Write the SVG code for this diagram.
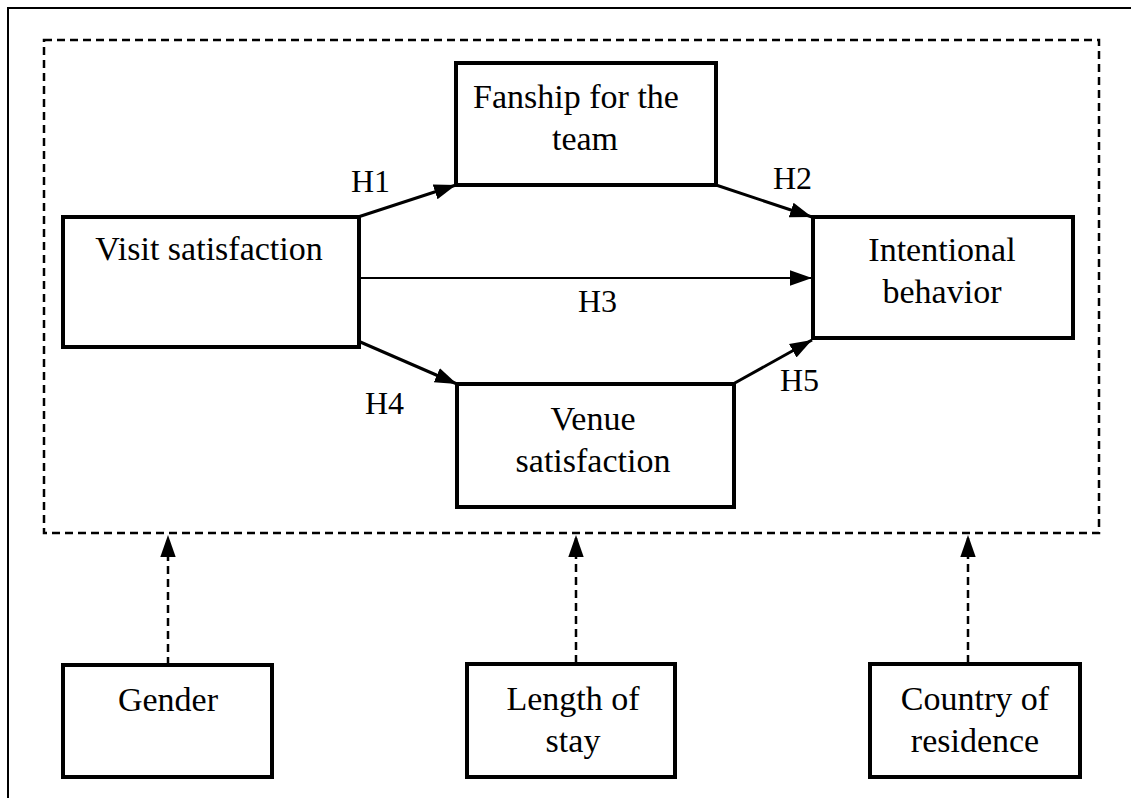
<svg xmlns="http://www.w3.org/2000/svg" width="1131" height="798" viewBox="0 0 1131 798">
<defs>
<style>
.box{fill:#fff;stroke:#000;stroke-width:4}
.t{font-family:"Liberation Serif","Times New Roman",serif;font-size:34px;fill:#000;text-anchor:middle}
.lbl{font-family:"Liberation Serif","Times New Roman",serif;font-size:32px;fill:#000}
.c{stroke:#000;stroke-width:3;fill:none}
.d{stroke:#000;stroke-width:2.5;fill:none;stroke-dasharray:8 5}
</style>
<marker id="ahs" viewBox="0 0 10 10" refX="10" refY="5" markerWidth="22" markerHeight="22" markerUnits="userSpaceOnUse" orient="auto">
<path d="M0,1.5 L10,5 L0,8.5 Z" fill="#000"/>
</marker>
</defs>
<rect width="1131" height="798" fill="#fff"/>
<path d="M8,798 V8 H1131" stroke="#000" stroke-width="2" fill="none"/>
<rect x="44" y="40" width="1055" height="493" class="d"/>
<g id="connectors">
<line x1="358" y1="217" x2="456" y2="185" class="c" marker-end="url(#ahs)"/>
<line x1="716" y1="185" x2="812" y2="217" class="c" marker-end="url(#ahs)"/>
<line x1="358" y1="278" x2="812" y2="278" stroke="#000" stroke-width="2" marker-end="url(#ahs)"/>
<line x1="358" y1="341" x2="457" y2="384" class="c" marker-end="url(#ahs)"/>
<line x1="733" y1="384" x2="812" y2="340" class="c" marker-end="url(#ahs)"/>
<line x1="168" y1="665" x2="168" y2="535" class="d" marker-end="url(#ahs)"/>
<line x1="576" y1="663" x2="576" y2="535" class="d" marker-end="url(#ahs)"/>
<line x1="968" y1="663" x2="968" y2="535" class="d" marker-end="url(#ahs)"/>
<text class="lbl" x="351" y="192">H1</text>
<text class="lbl" x="773" y="189">H2</text>
<text class="lbl" x="578" y="312">H3</text>
<text class="lbl" x="365" y="414">H4</text>
<text class="lbl" x="780" y="391">H5</text>
</g>
<g id="fanship"><rect x="456" y="63" width="260" height="122" class="box"/><text class="t" x="576" y="108">Fanship  for the</text><text class="t" x="585" y="150">team</text></g>
<g id="visit"><rect x="63" y="217" width="296" height="130" class="box"/><text class="t" x="209" y="260">Visit satisfaction</text></g>
<g id="intentional"><rect x="813" y="217" width="260" height="121" class="box"/><text class="t" x="942" y="261">Intentional</text><text class="t" x="942" y="303">behavior</text></g>
<g id="venue"><rect x="457" y="384" width="277" height="123" class="box"/><text class="t" x="593" y="430">Venue</text><text class="t" x="593" y="472">satisfaction</text></g>
<g id="gender"><rect x="63" y="665" width="209" height="112" class="box"/><text class="t" x="168" y="711">Gender</text></g>
<g id="length"><rect x="467" y="664" width="208" height="113" class="box"/><text class="t" x="573" y="710">Length of</text><text class="t" x="573" y="752">stay</text></g>
<g id="country"><rect x="870" y="664" width="210" height="113" class="box"/><text class="t" x="975" y="710">Country of</text><text class="t" x="975" y="752">residence</text></g>
</svg>
